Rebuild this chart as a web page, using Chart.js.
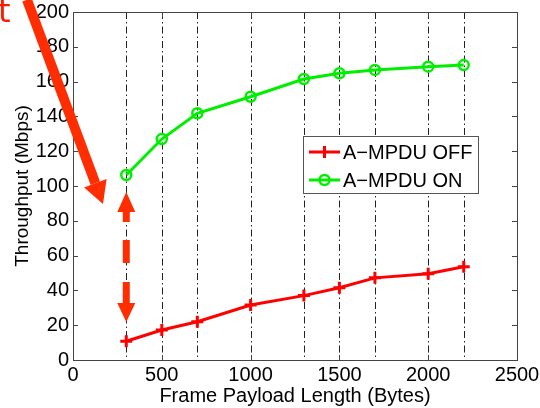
<!DOCTYPE html>
<html>
<head>
<meta charset="utf-8">
<script src="https://cdn.jsdelivr.net/npm/chart.js@4"></script>
<style>
  html, body { margin: 0; padding: 0; background: #fff; }
  #wrap { width: 540px; height: 408px; }
</style>
</head>
<body>
<div id="wrap"><canvas id="tput"></canvas></div>
<script>
// payload length (bytes) and throughput (Mbps)
const payloadLen = [300, 500, 700, 1000, 1300, 1500, 1700, 2000, 2200];
const mpduOff = [10.8, 17.2, 22, 31.6, 37, 41.5, 47.2, 49.6, 53.6];
const mpduOn = [106.3, 127, 141.8, 151.3, 161.5, 164.8, 166.7, 168.6, 169.5];
const xTicks = [0, 500, 1000, 1500, 2000, 2500];
const yTicks = [0, 20, 40, 60, 80, 100, 120, 140, 160, 180, 200];
const seriesNames = ['A\u2212MPDU OFF', 'A\u2212MPDU ON'];

const FONT = '"Liberation Sans", Arial, sans-serif';
const ARROW_RED = '#ff2d00';

// arrow head with its tip at (x1,y1), pointing away from (x0,y0); returns the base point
function head(ctx, x0, y0, x1, y1, headLen, headHalf) {
    const dx = x1 - x0, dy = y1 - y0;
    const len = Math.sqrt(dx * dx + dy * dy);
    const ux = dx / len, uy = dy / len;
    const bx = x1 - ux * headLen, by = y1 - uy * headLen;
    ctx.fillStyle = ARROW_RED;
    ctx.beginPath();
    ctx.moveTo(x1, y1);
    ctx.lineTo(bx - uy * headHalf, by + ux * headHalf);
    ctx.lineTo(bx + uy * headHalf, by - ux * headHalf);
    ctx.closePath();
    ctx.fill();
    return [bx, by];
}

function shaft(ctx, x0, y0, x1, y1, width, dash) {
    ctx.save();
    ctx.strokeStyle = ARROW_RED;
    ctx.lineWidth = width;
    ctx.lineCap = 'butt';
    if (dash) ctx.setLineDash(dash);
    ctx.beginPath();
    ctx.moveTo(x0, y0);
    ctx.lineTo(x1, y1);
    ctx.stroke();
    ctx.restore();
}

const matlabLook = {
    id: 'matlabLook',
    beforeDatasetsDraw(chart) {
        const ctx = chart.ctx, a = chart.chartArea;
        const xs = chart.scales.x;
        // dash-dot grid lines at the measured payload sizes
        ctx.save();
        ctx.strokeStyle = '#222';
        ctx.lineWidth = 1;
        ctx.setLineDash([7, 3, 1.5, 3]);
        payloadLen.forEach(v => {
            const px = Math.round(xs.getPixelForValue(v)) + 0.5;
            ctx.beginPath();
            ctx.moveTo(px, a.top);
            ctx.lineTo(px, a.bottom);
            ctx.stroke();
        });
        ctx.restore();
    },
    afterDatasetsDraw(chart) {
        const ctx = chart.ctx, a = chart.chartArea;
        const xs = chart.scales.x, ys = chart.scales.y;
        ctx.save();
        ctx.strokeStyle = '#444';
        ctx.lineWidth = 1;
        ctx.strokeRect(Math.round(a.left) + 0.5, Math.round(a.top) + 0.5,
            Math.round(a.right - a.left), Math.round(a.bottom - a.top));
        const t = 5;
        ctx.beginPath();
        xTicks.forEach(v => {
            const px = Math.round(xs.getPixelForValue(v)) + 0.5;
            ctx.moveTo(px, a.bottom); ctx.lineTo(px, a.bottom - t);
            ctx.moveTo(px, a.top); ctx.lineTo(px, a.top + t);
        });
        yTicks.forEach(v => {
            const py = Math.round(ys.getPixelForValue(v)) + 0.5;
            ctx.moveTo(a.left, py); ctx.lineTo(a.left + t, py);
            ctx.moveTo(a.right, py); ctx.lineTo(a.right - t, py);
        });
        ctx.stroke();
        ctx.restore();
    },
    afterDraw(chart) {
        const ctx = chart.ctx;
        const xs = chart.scales.x, ys = chart.scales.y;

        // legend box
        const lx = 303, ly = 136, lw = 175, lh = 57;
        ctx.save();
        ctx.fillStyle = '#fff';
        ctx.fillRect(lx, ly, lw, lh);
        ctx.strokeStyle = '#555';
        ctx.lineWidth = 1;
        ctx.strokeRect(lx + 0.5, ly + 0.5, lw, lh);
        ctx.font = '20px ' + FONT;
        ctx.textBaseline = 'middle';
        ctx.fillStyle = '#000';
        chart.data.datasets.forEach((ds, i) => {
            const cy = ly + 16 + i * 28;
            ctx.strokeStyle = ds.borderColor;
            ctx.lineWidth = 3;
            ctx.beginPath();
            ctx.moveTo(309, cy); ctx.lineTo(340, cy);
            ctx.stroke();
            if (ds.pointStyle === 'cross') {
                ctx.beginPath();
                ctx.moveTo(324.5, cy - 6); ctx.lineTo(324.5, cy + 6);
                ctx.stroke();
            } else {
                ctx.lineWidth = 2.5;
                ctx.beginPath();
                ctx.arc(324.5, cy, 5, 0, Math.PI * 2);
                ctx.stroke();
            }
            ctx.fillStyle = '#000';
            ctx.fillText(ds.label, 343, cy + 1);
        });
        ctx.restore();

        // annotation arrows
        ctx.save();
        const sx = xs.getPixelForValue(-259), sy = ys.getPixelForValue(207);
        const b = head(ctx, sx, sy, xs.getPixelForValue(169), ys.getPixelForValue(89.7), 22, 12);
        shaft(ctx, sx, sy, b[0], b[1], 10);

        const ax = xs.getPixelForValue(payloadLen[0]);
        const yTop = ys.getPixelForValue(96.6), yBot = ys.getPixelForValue(21.8);
        const bt = head(ctx, ax, yBot, ax, yTop, 20, 9);
        const bb = head(ctx, ax, yTop, ax, yBot, 19, 9);
        shaft(ctx, ax, bt[1], ax, bb[1], 7, [10, 18, 23, 19, 30, 100]);
        ctx.restore();

        // clipped red letter at the corner
        ctx.save();
        ctx.fillStyle = '#ff1a00';
        ctx.font = '32px "DejaVu Sans", sans-serif';
        ctx.textBaseline = 'alphabetic';
        ctx.fillText('t', -2, 22);
        ctx.restore();
    }
};

new Chart(document.getElementById('tput'), {
    type: 'line',
    data: {
        datasets: [
            {
                label: seriesNames[0],
                data: payloadLen.map((x, i) => ({ x: x, y: mpduOff[i] })),
                borderColor: '#ff0000',
                backgroundColor: '#ff0000',
                borderWidth: 3,
                pointStyle: 'cross',
                pointRadius: 6,
                pointBorderWidth: 3,
                tension: 0,
            },
            {
                label: seriesNames[1],
                data: payloadLen.map((x, i) => ({ x: x, y: mpduOn[i] })),
                borderColor: '#00ee00',
                backgroundColor: 'rgba(0,0,0,0)',
                borderWidth: 3,
                pointStyle: 'circle',
                pointRadius: 5,
                pointBorderWidth: 2.5,
                tension: 0,
            }
        ]
    },
    options: {
        responsive: true,
        maintainAspectRatio: false,
        animation: false,
        events: [],
        layout: { padding: { top: 12, right: 23, left: 0, bottom: 0 } },
        plugins: { legend: { display: false }, tooltip: { enabled: false } },
        scales: {
            x: {
                type: 'linear',
                min: 0,
                max: 2500,
                afterFit(scale) {
                    scale.height = 48;
                    scale.paddingLeft = 0;
                    scale.paddingRight = 0;
                },
                afterBuildTicks(scale) { scale.ticks = xTicks.map(v => ({ value: v })); },
                grid: { display: false, drawTicks: false },
                border: { display: false },
                ticks: {
                    padding: 3,
                    color: '#000',
                    font: { family: FONT, size: 20 },
                    maxRotation: 0,
                    callback: v => String(v)
                },
                title: {
                    display: true,
                    text: 'Frame Payload Length (Bytes)',
                    color: '#000',
                    font: { family: FONT, size: 20 },
                    padding: { top: 0, bottom: 0 }
                }
            },
            y: {
                min: 0,
                max: 200,
                afterFit(scale) {
                    scale.width = 73;
                    scale.paddingTop = 0;
                    scale.paddingBottom = 0;
                },
                afterBuildTicks(scale) { scale.ticks = yTicks.map(v => ({ value: v })); },
                grid: { display: false, drawTicks: false },
                border: { display: false },
                ticks: { padding: 4, color: '#000', font: { family: FONT, size: 20 }, callback: v => String(v) },
                title: {
                    display: true,
                    text: 'Throughput (Mbps)',
                    color: '#000',
                    font: { family: FONT, size: 19 },
                    padding: { top: 11, bottom: 0 }
                }
            }
        }
    },
    plugins: [matlabLook]
});
</script>
</body>
</html>
